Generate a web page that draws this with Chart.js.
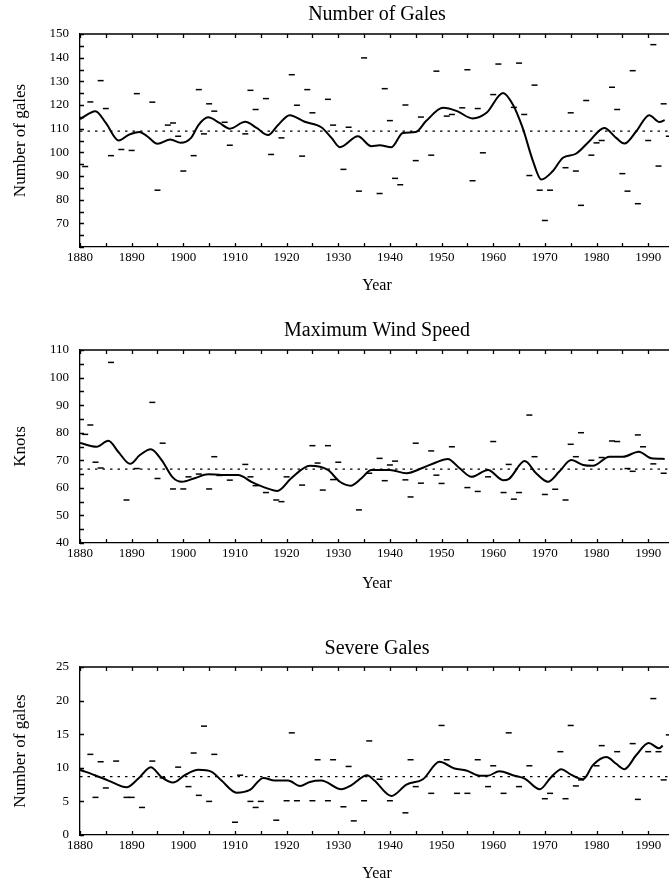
<!DOCTYPE html>
<html>
<head>
<meta charset="utf-8">
<script src="https://cdn.jsdelivr.net/npm/chart.js@4.4.0/dist/chart.umd.min.js"></script>
<style>
  html, body { margin: 0; padding: 0; background: #fff; overflow: hidden; width: 669px; height: 883px; }
  canvas { position: absolute; left: 0; }
</style>
</head>
<body>
<canvas id="gales" width="680" height="297" style="top:0px"></canvas>
<canvas id="wind" width="680" height="277" style="top:316px"></canvas>
<canvas id="severe" width="680" height="251" style="top:634px"></canvas>
<script>
// Shared x axis (years)
const xTicks = [1880, 1885, 1890, 1895, 1900, 1905, 1910, 1915, 1920, 1925, 1930, 1935, 1940, 1945, 1950, 1955, 1960, 1965, 1970, 1975, 1980, 1985, 1990];
const xLabels = [1880, 1890, 1900, 1910, 1920, 1930, 1940, 1950, 1960, 1970, 1980, 1990];

// Number of Gales: smoothed curve
const galesLineYears = [1880, 1883, 1885, 1887.5, 1889.5, 1891.5, 1893, 1895, 1897.5, 1899.5, 1901.5, 1903, 1904.8, 1907, 1909, 1912, 1914.2, 1916.4, 1918.4, 1920.6, 1923.5, 1926.7, 1928.7, 1930.3, 1933.8, 1936.4, 1938, 1940.3, 1942.5, 1945, 1947, 1950.3, 1953, 1956, 1958.7, 1961.9, 1963.8, 1965.7, 1967.7, 1969.3, 1971.5, 1973.5, 1976, 1978.6, 1981.5, 1983.8, 1985.4, 1987.7, 1990.2, 1992.2, 1993.2];
const galesLineValues = [114, 117.4, 112.4, 105, 107.5, 108.6, 106.8, 103.6, 105.4, 104, 106.1, 111.7, 114.8, 112.4, 110, 112.9, 110.3, 107.3, 111.7, 115.7, 112.9, 110.6, 106.1, 102.2, 106.8, 102.6, 103, 102.2, 108.2, 108.6, 113.2, 118.8, 117.4, 114.3, 116.7, 125.1, 120.2, 110.3, 96.3, 88.5, 92, 97.7, 99.4, 104.7, 110.3, 106.1, 103.7, 108.9, 115.7, 112.8, 113.6];
// Number of Gales: yearly values
const galesYears = [1881, 1882, 1884, 1885, 1886, 1888, 1890, 1891, 1894, 1895, 1897, 1898, 1899, 1900, 1902, 1903, 1904, 1905, 1906, 1908, 1909, 1912, 1913, 1914, 1916, 1917, 1919, 1921, 1922, 1923, 1924, 1925, 1928, 1929, 1931, 1932, 1934, 1935, 1938, 1939, 1940, 1941, 1942, 1943, 1945, 1946, 1948, 1949, 1951, 1952, 1954, 1955, 1956, 1957, 1958, 1960, 1961, 1964, 1965, 1966, 1967, 1968, 1969, 1970, 1971, 1974, 1975, 1976, 1977, 1978, 1979, 1980, 1981, 1983, 1984, 1985, 1986, 1987, 1988, 1990, 1991, 1992, 1993, 1994];
const galesValues = [94, 121.3, 130.3, 118.5, 98.6, 101.2, 100.8, 124.8, 121.2, 84, 111.5, 112.4, 106.8, 92.1, 98.6, 126.5, 107.8, 120.5, 117.4, 112.7, 103, 107.8, 126.2, 118.1, 122.7, 99.1, 106.1, 132.8, 119.9, 98.4, 126.5, 116.7, 122.4, 111.5, 92.8, 110.6, 83.6, 139.9, 82.6, 126.9, 113.4, 89, 86.3, 120, 96.5, 114.9, 98.8, 134.3, 115.3, 116, 118.8, 134.9, 88, 118.5, 99.8, 124.4, 137.3, 119, 137.7, 116, 90.2, 128.4, 84, 71.2, 84, 93.5, 116.7, 92.1, 77.6, 121.9, 98.8, 104, 105, 127.5, 118.1, 91, 83.6, 134.5, 78.3, 105, 145.5, 94.2, 120.5, 106.8];
const galesMean = 109;
const galesYTicks = [60, 65, 70, 75, 80, 85, 90, 95, 100, 105, 110, 115, 120, 125, 130, 135, 140, 145, 150];
const galesYLabels = [70, 80, 90, 100, 110, 120, 130, 140, 150];

// Maximum Wind Speed: smoothed curve
const windLineYears = [1880, 1883.2, 1885.5, 1887.4, 1889.7, 1891.6, 1893.7, 1895.8, 1898, 1899.7, 1902.2, 1904.8, 1907.4, 1910.6, 1913.2, 1915.8, 1918.2, 1920.9, 1924.5, 1928, 1930.3, 1932.4, 1934.5, 1936.4, 1940, 1943.2, 1946.4, 1949, 1951.2, 1953.5, 1955.8, 1959, 1961.9, 1963, 1966.1, 1968.3, 1970.6, 1972.8, 1975.1, 1977.4, 1979.3, 1982.5, 1985.1, 1988.2, 1990.6, 1993.2];
const windLineValues = [76.3, 74.9, 77.1, 73.1, 68.7, 71.9, 74, 70.1, 63.7, 62.2, 63.5, 64.9, 64.7, 64.7, 62.2, 60.1, 58.9, 63.5, 68, 66.5, 62.2, 60.8, 63.5, 66.5, 66.5, 65.3, 67.3, 69.3, 70.5, 67.1, 64, 66.5, 62.8, 63.2, 69.7, 65.3, 62.2, 65.9, 70.1, 68.3, 68, 71.3, 71.3, 73.1, 70.7, 70.5];
// Maximum Wind Speed: yearly values
const windYears = [1881, 1882, 1883, 1884, 1886, 1889, 1891, 1894, 1895, 1896, 1898, 1900, 1901, 1903, 1905, 1906, 1907, 1909, 1912, 1913, 1914, 1916, 1918, 1919, 1920, 1923, 1925, 1926, 1927, 1928, 1929, 1930, 1934, 1936, 1938, 1939, 1940, 1941, 1943, 1944, 1945, 1946, 1948, 1949, 1950, 1952, 1955, 1957, 1959, 1960, 1962, 1963, 1964, 1965, 1967, 1968, 1970, 1972, 1974, 1975, 1976, 1977, 1979, 1981, 1983, 1984, 1986, 1987, 1988, 1989, 1991, 1993];
const windValues = [79.4, 82.8, 69.3, 67.2, 105.5, 55.6, 67, 91, 63.4, 76.2, 59.6, 59.6, 64, 65, 59.6, 71.3, 64.5, 62.8, 68.5, 64, 60.8, 58.3, 55.6, 55, 64, 61, 75.3, 69, 59.2, 75.3, 63, 69.3, 52, 65.3, 70.7, 62.6, 68.3, 69.7, 62.9, 56.7, 76.2, 61.7, 73.4, 64.6, 61.6, 74.9, 60.1, 58.7, 64, 76.8, 58.3, 68.5, 55.9, 58.3, 86.4, 71.3, 57.6, 59.5, 55.6, 75.8, 71.3, 80, 70, 71, 77, 76.8, 67, 66, 79.2, 74.9, 68.7, 65.3];
const windMean = 66.8;
const windYTicks = [40, 45, 50, 55, 60, 65, 70, 75, 80, 85, 90, 95, 100, 105, 110];
const windYLabels = [40, 50, 60, 70, 80, 90, 100, 110];

// Severe Gales: smoothed curve
const severeLineYears = [1880, 1882.9, 1885.5, 1889, 1891.3, 1893.7, 1895.8, 1898, 1900.3, 1902.9, 1905.5, 1907.4, 1910.3, 1912.9, 1915.5, 1917.7, 1920.3, 1922.6, 1924.5, 1926.7, 1930.6, 1932.5, 1935.6, 1937, 1940.3, 1943.2, 1946.4, 1949.6, 1952.5, 1954.8, 1957.4, 1958.9, 1961.2, 1963.8, 1966.1, 1969, 1971.2, 1973.2, 1974.8, 1977.4, 1979.3, 1981.9, 1983.8, 1985.4, 1987.7, 1990.1, 1992.1, 1992.8];
const severeLineValues = [9.7, 8.9, 8.1, 7.1, 8.4, 10.1, 8.6, 7.8, 8.9, 9.7, 9.4, 8.1, 6.3, 6.7, 8.5, 8.1, 8.1, 7.3, 7.9, 8.1, 6.8, 7.4, 8.9, 8.1, 5.8, 7.5, 8.3, 10.9, 9.9, 9.6, 8.8, 8.8, 9.5, 8.9, 8.4, 6.8, 8.6, 9.8, 9.1, 8.3, 10.4, 11.6, 10.6, 9.8, 11.9, 13.7, 12.9, 13.3];
// Severe Gales: yearly values
const severeYears = [1882, 1883, 1884, 1885, 1887, 1889, 1890, 1892, 1894, 1896, 1899, 1901, 1902, 1903, 1904, 1905, 1906, 1910, 1911, 1913, 1914, 1915, 1918, 1920, 1921, 1922, 1925, 1926, 1928, 1929, 1931, 1932, 1933, 1935, 1936, 1938, 1940, 1943, 1944, 1945, 1948, 1950, 1951, 1953, 1955, 1957, 1959, 1960, 1962, 1963, 1965, 1967, 1970, 1971, 1973, 1974, 1975, 1976, 1977, 1980, 1981, 1984, 1987, 1988, 1990, 1991, 1992, 1993, 1994];
const severeValues = [12, 5.6, 10.9, 7, 11, 5.6, 5.6, 4.1, 11, 8.5, 10.1, 7.2, 12.2, 5.9, 16.2, 5, 12, 1.9, 8.9, 5, 4.1, 5, 2.2, 5.1, 15.2, 5.1, 5.1, 11.2, 5.1, 11.2, 4.2, 10.2, 2.1, 5.1, 14, 8.3, 5.1, 3.3, 11.2, 7.2, 6.2, 16.3, 11.2, 6.2, 6.2, 11.2, 7.2, 10.3, 6.2, 15.2, 7.2, 10.3, 5.4, 6.2, 12.4, 5.4, 16.3, 7.3, 8.2, 10.3, 13.3, 12.4, 13.6, 5.3, 12.4, 20.3, 12.4, 8.2, 14.9];
const severeMean = 8.7;
const severeYTicks = [0, 5, 10, 15, 20, 25];
const severeYLabels = [0, 5, 10, 15, 20, 25];

const yearStart = 1880;
const yearEnd = 1995;

Chart.defaults.font.family = "'Liberation Serif', 'DejaVu Serif', serif";
Chart.defaults.color = '#000';

// top border and inward tick marks, like the printed figure
const frameTicks = {
    id: 'frameTicks',
    afterDatasetsDraw(chart) {
        const { ctx, chartArea: a, scales: { x, y } } = chart;
        ctx.save();
        ctx.strokeStyle = '#000';
        ctx.lineWidth = 1.3;
        ctx.beginPath();
        ctx.moveTo(a.left, a.top);
        ctx.lineTo(a.right, a.top);
        x.ticks.forEach(t => {
            const px = Math.round(x.getPixelForValue(t.value)) + 0.5;
            ctx.moveTo(px, a.top);
            ctx.lineTo(px, a.top + 4);
            ctx.moveTo(px, a.bottom);
            ctx.lineTo(px, a.bottom - 4);
        });
        y.ticks.forEach(t => {
            const py = Math.round(y.getPixelForValue(t.value)) + 0.5;
            ctx.moveTo(a.left, py);
            ctx.lineTo(a.left + 4, py);
        });
        ctx.stroke();
        ctx.restore();
    }
};

function pairs(xs, ys) {
    return xs.map((v, i) => ({ x: v, y: ys[i] }));
}

function makePanel(id, p) {
    const ctx = document.getElementById(id);
    return new Chart(ctx, {
        type: 'line',
        data: {
            datasets: [
                {
                    label: 'Yearly',
                    data: pairs(p.years, p.values),
                    showLine: false,
                    pointStyle: 'line',
                    pointRadius: 3,
                    pointBorderWidth: 1.5,
                    borderColor: '#000',
                    backgroundColor: '#000'
                },
                {
                    label: 'Mean',
                    data: pairs([yearStart, yearEnd], [p.mean, p.mean]),
                    borderColor: '#000',
                    borderWidth: 1.3,
                    borderDash: [2.5, 5],
                    pointRadius: 0
                },
                {
                    label: 'Smoothed',
                    data: pairs(p.lineYears, p.lineValues),
                    borderColor: '#000',
                    borderWidth: 2,
                    cubicInterpolationMode: 'monotone',
                    pointRadius: 0
                }
            ]
        },
        options: {
            responsive: false,
            animation: false,
            layout: { padding: { top: 0, left: 0, right: 6, bottom: 0 } },
            plugins: {
                legend: { display: false },
                tooltip: { enabled: false },
                title: {
                    display: true,
                    text: p.title,
                    fullSize: false,
                    color: '#000',
                    font: { size: 20, weight: 'normal' },
                    padding: { top: 3, bottom: p.titleGap }
                }
            },
            scales: {
                x: {
                    type: 'linear',
                    min: yearStart,
                    max: yearEnd,
                    afterBuildTicks: s => { s.ticks = xTicks.map(v => ({ value: v })); },
                    afterFit: s => { s.height = 50; },
                    grid: { display: false, drawTicks: false },
                    border: { display: true, color: '#000', width: 1.3 },
                    ticks: {
                        autoSkip: false,
                        maxRotation: 0,
                        padding: 3,
                        font: { size: 13 },
                        callback: v => xLabels.includes(v) ? String(v) : ''
                    },
                    title: {
                        display: true,
                        text: 'Year',
                        font: { size: 16 },
                        padding: { top: 0, bottom: p.xTitleGap }
                    }
                },
                y: {
                    min: p.yMin,
                    max: p.yMax,
                    afterBuildTicks: s => { s.ticks = p.yTicks.map(v => ({ value: v })); },
                    afterFit: s => { s.width = 80; },
                    grid: { display: false, drawTicks: false },
                    border: { display: true, color: '#000', width: 1.3 },
                    ticks: {
                        autoSkip: false,
                        padding: 11,
                        font: { size: 13 },
                        callback: v => p.yLabels.includes(v) ? String(v) : ''
                    },
                    title: {
                        display: true,
                        text: p.yTitle,
                        font: { size: 17 },
                        padding: { top: 10, bottom: 0 }
                    }
                }
            }
        },
        plugins: [frameTicks]
    });
}

makePanel('gales', {
    title: 'Number of Gales', yTitle: 'Number of gales', titleGap: 7, xTitleGap: 2,
    yMin: 60, yMax: 150, yTicks: galesYTicks, yLabels: galesYLabels, mean: galesMean,
    years: galesYears, values: galesValues, lineYears: galesLineYears, lineValues: galesLineValues
});

makePanel('wind', {
    title: 'Maximum Wind Speed', yTitle: 'Knots', titleGap: 7, xTitleGap: 0,
    yMin: 40, yMax: 110, yTicks: windYTicks, yLabels: windYLabels, mean: windMean,
    years: windYears, values: windValues, lineYears: windLineYears, lineValues: windLineValues
});

makePanel('severe', {
    title: 'Severe Gales', yTitle: 'Number of gales', titleGap: 6, xTitleGap: 2,
    yMin: 0, yMax: 25, yTicks: severeYTicks, yLabels: severeYLabels, mean: severeMean,
    years: severeYears, values: severeValues, lineYears: severeLineYears, lineValues: severeLineValues
});
</script>
</body>
</html>
